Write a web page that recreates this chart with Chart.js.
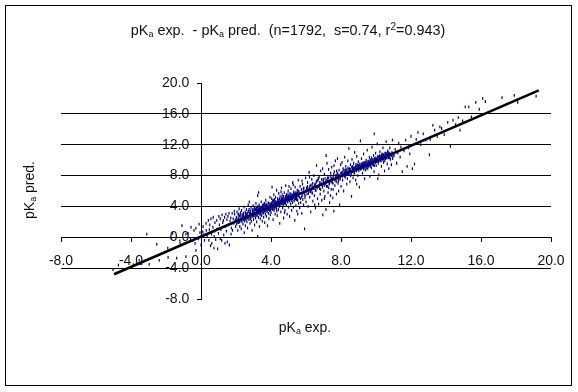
<!DOCTYPE html>
<html>
<head>
<meta charset="utf-8">
<script src="https://cdn.jsdelivr.net/npm/chart.js@4"></script>
<style>
  html, body { margin: 0; background: #fff; }
  #wrap { position: relative; width: 578px; height: 392px; }
</style>
</head>
<body>
<div id="wrap"><canvas id="pkaChart" width="578" height="392"></canvas></div>
<script>
// [pKa exp, pKa pred], by range of pKa exp
var belowZero = [[-5.03,-4.2],[-4.72,-3.6],[-3.53,-3.0],[-3.39,-3.4],[-2.96,-3.5],[-3.1,0.4],[-2.53,-0.9],[-2.39,-3.0],[-1.88,-2.6],[-1.39,-2.7],
  [-0.86,-2.5],[-1.9,-1.4],[-1.09,1.5],[-0.57,1.3],[-0.29,1.2],[-0.11,1.7],[-0.86,0.4],[-0.74,0.5],[-1.62,0.5],[-1.71,-0.1],[-0.46,-0.4],[-0.34,-0.8],
  [-0.29,-1.7],[-0.06,0.6],[-0.6,-0.2],[-1.2,-0.7],[-0.15,-0.2],[-0.4,0.9]];
var zeroToTwo = [[0,-1.0],[0.1,0.7],[0.12,1.4],[0.2,-0.4],[0.29,1.8],[0.3,0.9],[0.35,0.1],[0.42,2.2],[0.45,-0.4],[0.48,1.0],[0.5,1.6],[0.55,-1.1],
  [0.57,2.4],[0.6,0.4],[0.62,-0.8],[0.68,1.3],[0.7,2.6],[0.74,-1.4],[0.78,0.8],[0.8,1.9],[0.84,-0.3],[0.9,2.2],[0.92,1.1],[0.95,-1.5],[1.0,0.5],[1.02,2.7],
  [1.05,1.6],[1.1,2.4],[1.14,1.0],[1.18,-0.4],[1.2,2.9],[1.24,1.9],[1.28,2.2],[1.3,0.3],[1.35,2.6],[1.37,-0.8],[1.4,1.4],[1.42,3.0],[1.48,2.3],[1.5,-0.6],
  [1.54,2.7],[1.58,1.6],[1.6,3.1],[1.62,-1.0],[1.66,2.1],[1.7,2.5],[1.74,1.2],[1.78,3.1],[1.8,0.9],[1.84,2.4],[1.88,1.8],[1.92,3.0],[1.95,2.2],[1.98,1.4],
  [1.72,0.4],[1.1,-0.2],[0.75,0.1],[1.45,0.8],[0.15,0.3],[1.9,3.4]];
var twoToFour = [[2.02,2.6],[2.04,1.7],[2.06,3.3],[2.08,2.1],[2.1,0.9],[2.12,3.0],[2.14,2.4],[2.16,1.9],[2.18,3.7],[2.2,2.8],[2.22,1.4],[2.24,2.2],[2.26,3.2],[2.28,2.6],
  [2.3,1.1],[2.32,3.5],[2.34,2.0],[2.36,2.9],[2.38,2.4],[2.4,1.7],[2.42,3.1],[2.44,2.7],[2.46,3.9],[2.47,0.6],[2.5,2.2],[2.52,3.3],[2.54,1.5],[2.56,2.9],[2.58,2.5],[2.6,3.6],
  [2.62,2.0],[2.64,3.1],[2.66,1.2],[2.68,2.7],[2.7,4.2],[2.72,3.4],[2.74,2.3],[2.76,4.6],[2.78,2.9],[2.8,1.8],[2.82,3.2],[2.84,2.5],[2.86,3.8],[2.88,2.1],[2.9,3.0],[2.92,0.9],
  [2.94,3.5],[2.96,2.7],[2.98,4.1],[3.0,2.3],[3.02,3.3],[3.04,2.9],[3.06,1.6],[3.08,3.7],[3.1,3.1],[3.12,2.5],[3.14,4.4],[3.16,3.4],[3.18,2.0],[3.2,2.8],[3.22,3.9],[3.24,5.4],
  [3.24,0.1],[3.26,3.2],[3.28,2.6],[3.29,5.8],[3.3,3.6],[3.32,4.2],[3.34,1.4],[3.36,3.0],[3.38,2.4],[3.4,3.8],[3.42,3.3],[3.44,4.6],[3.46,2.8],[3.48,3.5],[3.5,2.1],[3.52,4.0],
  [3.54,3.1],[3.56,3.7],[3.58,2.6],[3.6,4.3],[3.62,3.4],[3.64,1.9],[3.66,3.9],[3.68,3.0],[3.7,4.8],[3.72,3.6],[3.74,2.7],[3.76,4.1],[3.78,3.3],[3.8,1.5],[3.82,3.8],[3.84,4.5],
  [3.86,3.1],[3.88,2.4],[3.9,4.0],[3.92,3.5],[3.94,5.2],[3.96,2.9],[3.98,4.3],[2.15,3.0],[2.45,2.3],[2.75,3.6],[3.05,3.9],[3.35,3.7],[3.65,4.2],[3.95,3.7],[2.55,3.1],[2.85,2.9],
  [3.15,3.6],[3.45,3.9],[3.75,3.9],[3.25,4.0],[3.55,4.1],[3.85,3.9]];
var fourToSix = [[4.0,3.2],[4.02,4.4],[4.04,5.0],[4.06,6.5],[4.08,3.7],[4.1,4.7],[4.12,2.3],[4.14,4.1],[4.16,5.5],[4.18,3.5],[4.2,4.9],[4.22,4.3],[4.24,3.0],[4.26,5.2],[4.28,4.6],[4.3,3.9],
  [4.32,6.1],[4.34,4.2],[4.36,2.8],[4.38,5.0],[4.4,4.5],[4.42,3.6],[4.44,5.7],[4.46,4.8],[4.48,4.0],[4.5,1.8],[4.52,5.3],[4.54,4.4],[4.56,3.3],[4.58,4.9],[4.6,6.4],[4.62,4.6],
  [4.64,5.5],[4.66,3.8],[4.68,5.1],[4.7,4.2],[4.72,2.5],[4.74,4.7],[4.76,5.8],[4.78,4.4],[4.8,3.5],[4.82,5.3],[4.84,6.7],[4.86,4.9],[4.88,4.1],[4.9,5.6],[4.92,3.0],[4.94,5.0],
  [4.96,4.6],[4.98,6.0],[5.0,3.9],[5.02,5.4],[5.04,4.8],[5.06,2.7],[5.08,5.7],[5.1,5.1],[5.12,4.3],[5.14,6.3],[5.16,4.9],[5.18,3.5],[5.2,5.5],[5.22,4.5],[5.24,7.1],[5.26,5.2],
  [5.28,3.9],[5.3,5.9],[5.32,4.7],[5.34,5.4],[5.36,2.2],[5.38,6.5],[5.4,5.0],[5.42,4.1],[5.44,5.7],[5.46,5.3],[5.48,3.4],[5.5,6.1],[5.52,4.8],[5.54,5.5],[5.56,7.4],[5.58,4.4],
  [5.6,5.9],[5.62,5.2],[5.64,3.8],[5.66,6.6],[5.68,5.0],[5.7,4.5],[5.72,5.7],[5.74,6.2],[5.76,3.1],[5.78,5.4],[5.8,6.9],[5.82,4.9],[5.84,5.9],[5.86,4.2],[5.88,6.4],[5.9,5.6],
  [5.92,1.1],[5.94,5.1],[5.96,6.0],[5.98,7.7],[4.15,3.9],[4.25,4.0],[4.35,4.6],[4.45,4.3],[4.55,4.7],[4.65,4.9],[4.75,4.6],[4.85,5.1],[4.95,5.2],[5.05,5.2],[5.15,5.3],[5.25,5.5],
  [5.35,5.6],[5.45,4.9],[5.55,6.0],[5.65,5.7],[5.75,5.2],[5.85,6.3],[5.95,5.4],[4.12,4.6],[4.33,3.4],[4.57,5.9],[4.77,3.2],[5.03,6.6],[5.27,6.8],[5.53,3.0],[5.77,7.3]];
var sixToEight = [[6.0,4.6],[6.03,6.4],[6.06,5.6],[6.09,7.1],[6.12,4.0],[6.15,6.0],[6.18,8.4],[6.21,5.2],[6.24,6.7],[6.27,3.3],[6.3,6.2],[6.33,7.5],[6.36,5.7],[6.39,4.7],[6.42,6.5],[6.45,8.0],
  [6.48,5.4],[6.51,6.9],[6.54,3.8],[6.57,6.1],[6.6,9.3],[6.63,7.3],[6.66,5.0],[6.69,6.6],[6.72,4.3],[6.75,7.8],[6.78,6.3],[6.81,5.6],[6.84,8.6],[6.87,7.0],[6.9,4.8],[6.93,6.8],
  [6.96,2.9],[6.99,7.5],[7.02,6.0],[7.05,8.2],[7.08,5.3],[7.11,7.2],[7.14,3.6],[7.17,6.6],[7.2,9.6],[7.23,7.7],[7.26,5.8],[7.29,8.8],[7.32,6.9],[7.35,4.5],[7.38,7.4],[7.41,8.3],
  [7.44,6.2],[7.47,9.1],[7.5,7.1],[7.53,5.1],[7.56,7.9],[7.59,3.4],[7.62,8.5],[7.65,6.7],[7.68,9.9],[7.71,7.4],[7.74,5.6],[7.77,8.1],[7.8,10.2],[7.83,7.0],[7.86,6.0],[7.89,8.7],
  [7.92,4.2],[7.95,7.7],[7.98,9.4],[6.1,6.3],[6.35,6.6],[6.55,6.9],[6.8,6.9],[7.0,7.1],[7.25,7.3],[7.45,7.6],[7.7,7.8],[7.9,8.0],[6.2,7.8],[6.5,4.2],[6.95,8.9],[7.15,10.6],
  [7.4,5.4],[7.6,9.3],[7.85,7.3],[6.7,7.6],[6.25,5.9],[7.3,6.4],[7.55,6.2],[7.75,8.6],[7.05,5.0]];
var eightToEleven = [[8.0,6.6],[8.03,8.3],[8.06,9.7],[8.09,7.4],[8.12,8.9],[8.15,6.0],[8.18,8.0],[8.21,10.4],[8.24,7.8],[8.27,9.2],[8.3,8.5],[8.33,6.9],[8.36,7.6],[8.39,9.9],[8.42,8.2],[8.45,11.5],
  [8.48,8.8],[8.51,7.2],[8.54,9.4],[8.57,8.5],[8.6,5.3],[8.63,10.1],[8.66,8.9],[8.69,7.7],[8.72,9.6],[8.75,8.3],[8.78,11.0],[8.81,9.1],[8.84,7.4],[8.87,8.7],[8.9,10.5],[8.93,9.3],
  [8.96,8.0],[8.99,9.8],[9.02,8.6],[9.05,6.5],[9.08,9.2],[9.11,12.5],[9.14,8.9],[9.17,10.2],[9.2,9.5],[9.23,8.3],[9.26,9.0],[9.29,10.8],[9.32,9.7],[9.35,7.6],[9.38,9.3],[9.41,8.7],
  [9.44,10.0],[9.47,9.5],[9.5,11.3],[9.53,8.9],[9.56,9.8],[9.59,9.2],[9.62,10.4],[9.65,7.9],[9.68,9.6],[9.71,10.1],[9.74,9.0],[9.77,11.7],[9.8,9.9],[9.83,9.4],[9.86,10.6],[9.89,8.5],
  [9.92,10.2],[9.95,9.7],[9.98,10.9],[10.01,9.3],[10.04,10.0],[10.07,12.1],[10.1,10.4],[10.13,9.6],[10.16,8.1],[10.19,10.2],[10.22,11.1],[10.25,9.9],[10.28,10.5],[10.31,9.2],[10.34,10.8],[10.37,10.1],
  [10.4,11.6],[10.43,9.7],[10.46,10.4],[10.49,8.6],[10.52,10.9],[10.55,10.2],[10.58,12.4],[10.61,10.6],[10.64,9.5],[10.67,11.2],[10.7,10.3],[10.73,8.9],[10.76,10.8],[10.79,11.6],[10.82,10.1],[10.85,10.7],
  [10.88,9.4],[10.91,11.0],[10.94,12.6],[10.97,10.5],[8.1,8.1],[8.2,8.4],[8.35,8.4],[8.5,8.6],[8.65,8.6],[8.8,8.7],[8.95,8.9],[9.1,9.0],[9.25,9.3],[9.4,9.3],[9.55,9.4],[9.7,9.5],
  [9.85,9.7],[10.0,10.1],[10.15,10.0],[10.3,10.2],[10.45,10.2],[10.6,10.4],[10.75,10.5],[10.9,10.6],[8.25,8.7],[8.55,8.0],[8.85,9.4],[9.15,9.4],[9.45,9.0],[9.75,10.3],[10.05,9.8],[10.35,10.6],
  [10.65,10.9],[10.95,10.2],[8.4,9.0],[8.7,9.0],[9.0,9.3],[9.3,8.8],[9.6,9.9],[9.9,9.3],[10.2,10.6],[10.5,9.9],[10.8,10.3],[10.1,7.6],[9.9,13.4],[8.9,6.9]];
var aboveEleven = [[11.03,10.6],[11.1,11.4],[11.18,9.6],[11.25,10.9],[11.3,12.2],[11.38,10.4],[11.42,11.7],[11.5,8.5],[11.6,11.2],[11.7,12.6],[11.78,9.2],[11.85,11.6],[11.93,10.8],[12.0,13.1],[12.08,8.9],[12.2,9.5],
  [12.3,12.7],[12.4,13.6],[12.55,12.0],[12.7,13.4],[12.85,12.6],[13.05,10.7],[13.1,12.7],[13.25,14.5],[13.35,13.9],[13.5,13.1],[13.65,14.3],[13.75,14.1],[13.9,13.3],[14.1,14.9],[14.25,11.8],[14.4,15.2],
  [14.55,14.6],[14.7,15.5],[14.8,13.9],[14.95,15.1],[15.1,16.9],[15.3,16.9],[15.45,15.6],[15.7,17.5],[15.9,16.6],[16.1,18.0],[16.25,17.6],[17.2,18.1],[17.9,18.4],[19.15,18.3],[18.1,17.5]];
// the dark bands close to the fit line
var coreLow = [[2.0,2.3],[2.05,2.5],[2.11,1.9],[2.17,2.7],[2.21,2.0],[2.27,2.9],[2.33,2.2],[2.37,2.6],[2.41,2.9],[2.48,2.1],[2.53,2.8],[2.57,2.3],[2.61,3.0],[2.65,2.5],[2.69,3.3],[2.73,2.6],
  [2.77,3.1],[2.81,2.4],[2.83,3.4],[2.87,3.0],[2.91,2.7],[2.95,3.3],[2.97,3.6],[3.01,2.8],[3.03,3.5],[3.07,3.1],[3.09,2.7],[3.11,3.6],[3.13,3.0],[3.17,3.8],[3.19,3.2],[3.21,2.9],
  [3.23,3.5],[3.27,3.7],[3.31,3.1],[3.33,3.4],[3.37,3.9],[3.39,3.2],[3.41,3.6],[3.43,2.9],[3.47,3.8],[3.49,3.3],[3.51,3.6],[3.53,4.2],[3.57,3.2],[3.59,3.9],[3.61,3.6],[3.63,4.4],
  [3.67,3.4],[3.69,4.0],[3.71,3.7],[3.73,4.3],[3.77,3.5],[3.79,4.0],[3.81,3.7],[3.83,4.2],[3.87,3.6],[3.89,4.4],[3.91,3.8],[3.93,4.1],[3.97,3.5],[3.99,4.0],[4.01,3.7],[4.03,4.2],
  [4.05,4.5],[4.07,3.9],[4.09,4.3],[4.11,3.6],[4.13,4.8],[4.17,4.1],[4.19,4.5],[4.21,3.8],[4.23,4.7],[4.27,4.2],[4.29,4.4],[4.31,3.7],[4.37,4.3],[4.39,4.8],[4.41,4.1],[4.43,4.6],
  [4.47,4.4],[4.49,5.0],[4.51,4.2],[4.53,4.7],[4.59,4.3],[4.61,5.1],[4.63,4.8],[4.67,4.4],[4.69,4.9],[4.71,5.3],[4.73,4.5],[4.79,5.0],[4.81,4.7],[4.83,4.4],[4.87,5.4],[4.89,4.8],
  [4.91,5.1],[4.93,4.6],[4.97,5.5],[4.99,4.9],[5.01,5.2],[5.07,4.7],[5.09,5.3],[5.11,5.0],[5.13,5.6],[5.17,5.1],[5.19,4.8],[5.21,5.4],[5.23,5.0],[5.29,5.7],[5.31,5.2],[5.33,4.9],
  [5.37,5.5],[5.39,5.1],[5.41,5.8],[5.43,5.3],[5.47,5.6],[5.49,5.1],[5.51,5.7],[5.57,5.4]];
var coreMid = [[6.02,6.0],[6.08,6.6],[6.14,5.7],[6.19,6.5],[6.23,6.1],[6.29,6.8],[6.34,5.9],[6.38,7.0],[6.44,6.3],[6.49,6.7],[6.53,6.1],[6.59,7.2],[6.64,6.4],[6.68,7.4],[6.74,6.6],[6.79,7.1],
  [6.83,6.2],[6.89,7.5],[6.94,6.5],[6.98,7.3],[7.04,6.7],[7.09,7.6],[7.13,6.9],[7.19,7.4],[7.24,6.6],[7.28,7.7],[7.34,7.0],[7.39,7.9],[7.43,7.2],[7.49,7.7],[7.54,7.0],[7.58,8.2],
  [7.64,7.4],[7.69,8.0],[7.73,7.2],[7.79,8.3],[7.84,7.6],[7.88,8.1],[7.94,7.5],[7.99,8.3]];
var coreHigh = [[8.02,8.0],[8.05,8.4],[8.08,7.9],[8.11,8.5],[8.14,8.1],[8.17,8.7],[8.19,8.2],[8.22,7.9],[8.26,8.3],[8.29,8.8],[8.31,8.1],[8.34,8.6],[8.37,8.3],[8.41,8.8],[8.44,8.4],[8.47,8.2],
  [8.49,8.9],[8.52,8.5],[8.56,8.8],[8.59,8.3],[8.61,9.1],[8.64,8.5],[8.67,9.2],[8.71,8.6],[8.74,8.9],[8.77,8.4],[8.79,9.0],[8.82,8.7],[8.86,9.2],[8.89,8.6],[8.91,9.0],[8.94,9.4],
  [8.97,8.8],[9.01,9.2],[9.04,8.9],[9.07,9.5],[9.09,9.1],[9.12,8.8],[9.16,9.3],[9.19,9.0],[9.21,9.6],[9.24,9.2],[9.27,9.5],[9.31,9.0],[9.34,9.6],[9.37,9.1],[9.39,9.7],[9.42,9.4],
  [9.46,9.1],[9.49,9.8],[9.51,9.3],[9.54,9.6],[9.57,9.3],[9.61,9.7],[9.64,9.4],[9.67,10.0],[9.69,9.2],[9.72,9.8],[9.76,9.5],[9.79,10.0],[9.81,9.6],[9.84,10.1],[9.87,9.4],[9.91,9.9],
  [9.94,10.2],[9.97,9.7],[9.99,10.3],[10.02,9.8],[10.06,10.2],[10.09,9.9],[10.11,10.5],[10.14,9.9],[10.17,10.4],[10.21,10.0],[10.24,10.5],[10.27,10.2],[10.29,9.9],[10.32,10.6],[10.36,10.3],[10.39,10.7],
  [10.41,10.1],[10.44,10.7],[10.47,10.3],[10.51,10.6],[10.54,10.9],[10.57,10.4],[10.59,10.8],[10.62,10.3],[10.66,10.6],[10.69,11.0],[10.72,10.5],[10.74,10.9],[10.77,10.4],[10.81,10.8]];
var fitExp = [-4.97, 19.3];
var fitPred = [-4.8, 19.05];

var xTicks = [-8, -4, 0, 4, 8, 12, 16, 20];
var yTicks = [-8, -4, 0, 4, 8, 12, 16, 20];

var scatterPoints = belowZero.concat(zeroToTwo, twoToFour, fourToSix, sixToEight, eightToEleven, aboveEleven, coreLow, coreMid, coreHigh)
  .map(function(p) { return { x: p[0], y: p[1] }; });
var fitLine = fitExp.map(function(v, i) { return { x: v, y: fitPred[i] }; });

var FONT = '"Liberation Sans", Arial, sans-serif';
var INK = '#111';

// draws text runs one after the other, sub/sup runs are smaller and shifted
function drawRuns(c, runs, x, y, size) {
  var total = 0;
  runs.forEach(function(r) {
    c.font = (r.size || size) + 'px ' + FONT;
    total += c.measureText(r.t).width;
  });
  var cx = x - total / 2;
  runs.forEach(function(r) {
    c.font = (r.size || size) + 'px ' + FONT;
    c.fillText(r.t, cx, y + (r.dy || 0));
    cx += c.measureText(r.t).width;
  });
}

var chartTexts = {
  id: 'chartTexts',
  beforeDraw: function(chart) {
    var c = chart.ctx;
    c.save();
    c.fillStyle = '#fff';
    c.fillRect(0, 0, 578, 392);
    c.strokeStyle = '#000';
    c.lineWidth = 1;
    c.strokeRect(5.5, 5.5, 566, 380);
    c.fillStyle = INK;
    c.textBaseline = 'alphabetic';
    c.textAlign = 'left';
    drawRuns(c, [{t:'pK'},{t:'a',size:9,dy:2},{t:' exp.  - pK'},{t:'a',size:9,dy:2},{t:' pred.  (n=1792,  s=0.74, r'},{t:'2',size:10,dy:-5},{t:'=0.943)'}], 288, 35, 14.4);
    drawRuns(c, [{t:'pK'},{t:'a',size:9,dy:2},{t:' exp.'}], 305, 332, 14);
    c.translate(34, 190);
    c.rotate(-Math.PI / 2);
    drawRuns(c, [{t:'pK'},{t:'a',size:9,dy:2},{t:' pred.'}], 0, 0, 14);
    c.restore();
  }
};

new Chart(document.getElementById('pkaChart').getContext('2d'), {
  type: 'scatter',
  data: {
    datasets: [{
      label: 'pKa',
      data: scatterPoints,
      pointStyle: 'line',
      rotation: 90,
      radius: 1.4,
      borderWidth: 1.2,
      borderColor: '#000080',
      backgroundColor: '#000080'
    }, {
      label: 'fit',
      data: fitLine,
      showLine: true,
      pointRadius: 0,
      borderWidth: 2.6,
      borderColor: '#000'
    }]
  },
  options: {
    responsive: false,
    animation: false,
    layout: { padding: { left: 61, right: 27, top: 83, bottom: 93 } },
    plugins: { legend: { display: false }, tooltip: { enabled: false } },
    scales: {
      x: {
        type: 'linear',
        min: -8,
        max: 20,
        position: { y: 0 },
        afterBuildTicks: function(s) { s.ticks = xTicks.map(function(v) { return { value: v }; }); },
        grid: { drawOnChartArea: false, tickLength: 4, tickColor: '#000' },
        border: { color: '#000', width: 1 },
        ticks: {
          z: -2, color: INK, padding: 11, maxRotation: 0, autoSkip: false,
          font: { family: FONT, size: 14 },
          callback: function(v) { return v.toFixed(1); }
        }
      },
      y: {
        type: 'linear',
        min: -8,
        max: 20,
        position: { x: 0 },
        afterBuildTicks: function(s) { s.ticks = yTicks.map(function(v) { return { value: v }; }); },
        grid: {
          tickLength: 4,
          tickColor: '#000',
          lineWidth: 1,
          color: function(ctx) {
            var v = ctx.tick.value;
            return (v === 20 || v === -8) ? 'rgba(0,0,0,0)' : '#000';
          }
        },
        border: { color: '#000', width: 1 },
        ticks: {
          z: -2, color: INK, autoSkip: false,
          font: { family: FONT, size: 14 },
          // labels sit on the axis line when it is placed at x=0, the spaces push them left of the tick
          callback: function(v) { return v.toFixed(1) + '   '; }
        }
      }
    }
  },
  plugins: [chartTexts]
});
</script>
</body>
</html>
